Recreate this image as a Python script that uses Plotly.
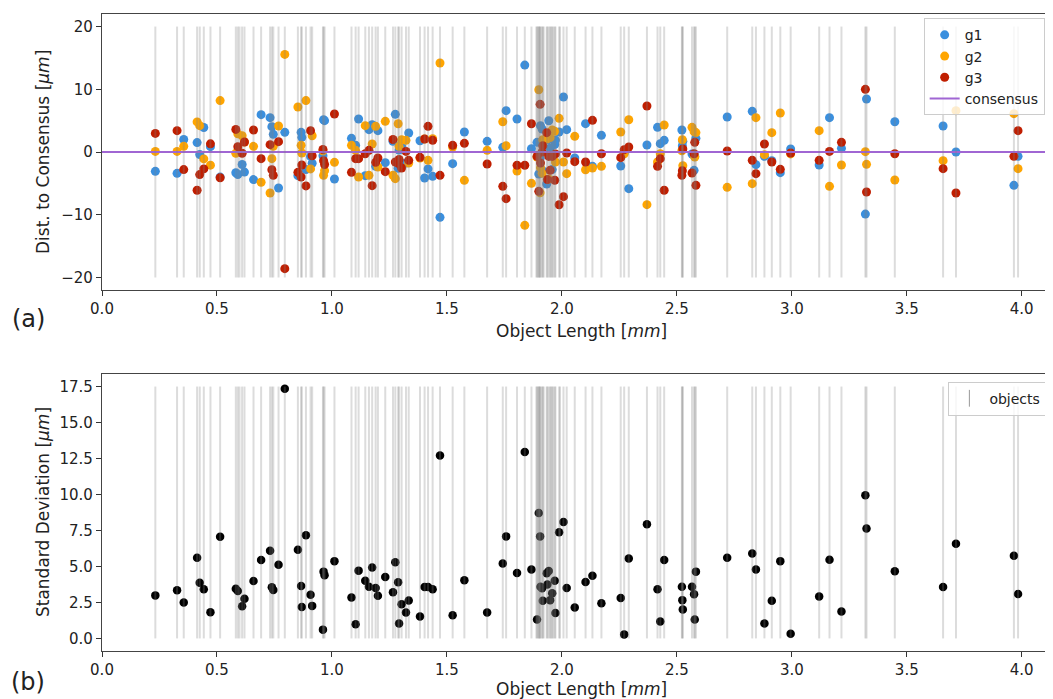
import plotly.graph_objects as go

# ---- data ----
lengths = [0.232, 0.3265, 0.3555, 0.4136, 0.425, 0.4427, 0.4716, 0.5137, 0.582, 0.5907,
           0.6095, 0.6196, 0.659, 0.692, 0.731, 0.7387, 0.745, 0.7678, 0.795, 0.852,
           0.866, 0.869, 0.887, 0.907, 0.914, 0.961, 0.9636, 0.968, 1.011, 1.085,
           1.103, 1.116, 1.145, 1.161, 1.175, 1.19, 1.20, 1.232, 1.2655, 1.2756,
           1.288, 1.292, 1.303, 1.322, 1.334, 1.383, 1.403, 1.418, 1.438, 1.470,
           1.525, 1.576, 1.675, 1.743, 1.7575, 1.805, 1.8387, 1.8677, 1.892, 1.8996,
           1.9054, 1.907, 1.914, 1.917, 1.934, 1.937, 1.943, 1.949, 1.958, 1.969,
           1.972, 1.988, 2.007, 2.021, 2.056, 2.103, 2.133, 2.172, 2.256, 2.271,
           2.291, 2.37, 2.416, 2.428, 2.445, 2.522, 2.524, 2.526, 2.566, 2.575,
           2.578, 2.583, 2.719, 2.828, 2.844, 2.881, 2.913, 2.95, 2.995, 3.119,
           3.164, 3.216, 3.320, 3.325, 3.448, 3.658, 3.714, 3.966, 3.984]

g1 = [-3.08, -3.4, 2.0, 1.5, -0.4, 3.9, 0.85, -4.0, -3.3, -3.6,
      -2.0, -3.2, -4.4, 5.95, 5.47, 4.04, 2.82, -5.74, 3.13, -3.77,
      3.13, 2.34, -2.8, -0.7, -1.8, -0.6, 5.15, 5.0, -4.3, 2.18,
      1.06, 5.26, -3.77, 3.56, 4.36, -2.28, 3.4, -1.7, 1.7, 6.0,
      -2.6, 0.3, 0.9, -1.75, 3.03, 1.8, -4.14, -2.7, -3.88, -10.41,
      -1.86, 3.19, 1.7, 0.74, 6.59, 5.26, 13.86, 0.53, 1.54, -3.5,
      -1.0, 4.2, 3.67, -3.0, -5.1, 1.9, 4.99, 0.6, -2.8, 1.2,
      1.9, 3.19, 8.77, 3.56, -0.96, 4.52, -2.28, 2.66, -2.23, -0.1,
      -5.84, 1.12, 3.93, 1.33, 1.86, 3.5, 1.0, 1.7, -0.32, -2.92,
      -0.7, 2.18, 5.58, 6.48, -2.02, -0.69, -1.38, -3.29, 0.48, -2.07,
      5.47, 0.58, -9.9, 8.45, 4.83, 4.14, 0.0, -5.31, -0.69]

g2 = [0.1, 0.1, 0.9, 4.8, 4.2, -1.1, -2.1, 8.2, -0.2, 2.9,
      2.6, 1.6, 0.9, -4.83, -6.53, -1.06, 0.9, 4.14, 15.56, 7.17,
      1.06, -0.16, 8.2, -2.7, 2.6, 0.2, -3.72, -2.97, -1.65, 1.06,
      0.27, -3.98, 4.2, -3.72, 1.27, 4.09, -2.39, 4.89, -3.7, -4.25,
      4.5, 0.9, 1.96, 1.86, -1.75, -0.95, 2.07, -1.33, 2.12, 14.18,
      0.8, -4.52, 0.27, 4.83, 1.0, -3.03, -11.69, -5.0, -0.8, 9.93,
      -6.5, -2.5, -3.4, 1.97, 2.07, 2.5, -4.3, 2.3, 3.5, 3.3,
      -1.6, 5.37, -1.6, -3.45, 2.5, -2.82, -2.55, -2.28, 3.19, -0.27,
      5.15, -8.39, -1.6, -0.27, 4.3, 0.2, 1.96, -2.18, 3.93, 3.24,
      -0.8, 3.1, -5.63, -5.05, 5.47, -0.42, 3.08, 6.22, -0.3, 3.4,
      -5.47, -2.07, 0.05, -1.97, -4.46, -1.38, 6.59, 6.11, -2.66]

g3 = [2.97, 3.4, -2.8, -6.1, -3.6, -2.7, 1.3, -4.1, 3.6, 0.85,
      -0.2, 1.6, 3.5, -1.06, 1.17, -2.82, -3.72, 1.65, -18.6, -3.24,
      -3.98, -2.07, -5.4, 3.4, -0.6, 0.4, -1.38, -2.0, 6.06, -3.24,
      -1.06, -1.06, -0.27, 0.27, -5.37, -1.65, -0.96, -3.13, 2.0, -1.6,
      -1.8, -1.2, -2.55, 0.1, -1.33, -0.85, 2.07, 4.09, 1.86, -3.72,
      1.06, 1.38, -1.91, -5.47, -7.44, -2.12, -2.12, 4.5, -0.7, -6.27,
      7.6, -1.75, 0.0, 1.0, 3.08, -4.4, -0.7, -2.9, -0.7, -4.5,
      -0.3, -8.4, -7.12, -0.16, -1.54, -1.6, 5.05, -0.27, -0.9, 0.37,
      0.8, 7.33, -2.28, -1.06, -6.1, -3.7, -2.97, 0.48, -3.35, -0.27,
      1.54, -5.31, 0.16, -1.33, -3.45, 1.27, -1.6, -2.76, -0.16, -1.33,
      0.1, 1.54, 9.99, -6.37, -0.27, -2.66, -6.53, -0.69, 3.4]

std_dev = [2.99, 3.34, 2.50, 5.60, 3.87, 3.41, 1.82, 7.07, 3.45, 3.29,
           2.24, 2.75, 3.99, 5.44, 6.09, 3.55, 3.36, 5.11, 17.35, 6.16,
           3.64, 2.19, 7.16, 3.03, 2.26, 0.61, 4.64, 4.39, 5.37, 2.85,
           0.98, 4.71, 4.01, 3.59, 4.92, 3.50, 2.96, 4.27, 3.20, 5.30,
           3.90, 1.03, 2.38, 1.80, 2.64, 1.52, 3.57, 3.57, 3.41, 12.71,
           1.61, 4.04, 1.80, 5.20, 7.09, 4.55, 12.95, 4.78, 1.31, 8.72,
           7.09, 3.59, 3.48, 2.61, 4.53, 3.75, 4.69, 2.66, 3.13, 4.01,
           1.77, 7.37, 8.09, 3.50, 2.15, 3.92, 4.36, 2.45, 2.80, 0.28,
           5.55, 7.93, 3.41, 1.17, 5.44, 3.59, 2.66, 2.01, 3.59, 3.06,
           1.31, 4.64, 5.60, 5.90, 4.78, 1.03, 2.61, 5.37, 0.33, 2.91,
           5.46, 1.87, 9.94, 7.63, 4.67, 3.57, 6.58, 5.74, 3.08]

# objects shown only as marker lines (no visible points)
extra_object_lengths = [0.598, 1.889, 1.897, 1.902, 1.921, 1.953, 1.962, 1.992]

consensus_value = 0.0
x_ticks = [0.0, 0.5, 1.0, 1.5, 2.0, 2.5, 3.0, 3.5, 4.0]
dist_ticks = [-20, -10, 0, 10, 20]
std_ticks = [0.0, 2.5, 5.0, 7.5, 10.0, 12.5, 15.0, 17.5]
dist_line_span = (-20, 20)
std_line_span = (0, 17.5)

object_lengths = lengths + extra_object_lengths

# ---- style ----
C1, C2, C3 = "#3a8fde", "#ffa500", "#c01e00"
CPURPLE = "#a066d3"
LINE_GREY = "rgba(128,128,128,0.28)"
FONT = "DejaVu Sans"
X_MAX = 4.136

fig = go.Figure()

for name, vals, col in [("g1", g1, C1), ("g2", g2, C2), ("g3", g3, C3)]:
    fig.add_trace(go.Scatter(x=lengths, y=vals, mode="markers", name=name,
                             marker=dict(color=col, size=9, line=dict(width=0)),
                             xaxis="x", yaxis="y", legend="legend"))

fig.add_trace(go.Scatter(x=[0, X_MAX], y=[consensus_value, consensus_value], mode="lines",
                         name="consensus", line=dict(color=CPURPLE, width=2),
                         xaxis="x", yaxis="y", legend="legend"))

fig.add_trace(go.Scatter(x=lengths, y=std_dev, mode="markers", showlegend=False,
                         marker=dict(color="black", size=8.5, line=dict(width=0)),
                         xaxis="x2", yaxis="y2"))

fig.add_trace(go.Scatter(x=[None], y=[None], mode="markers", name="objects",
                         marker=dict(symbol="line-ns", size=12, color="grey",
                                     line=dict(color="rgba(128,128,128,0.8)", width=1)),
                         xaxis="x2", yaxis="y2", legend="legend2"))

shapes = []
for L in object_lengths:
    shapes.append(dict(type="line", xref="x", yref="y", x0=L, x1=L,
                       y0=dist_line_span[0], y1=dist_line_span[1],
                       line=dict(color=LINE_GREY, width=2), layer="above"))
    shapes.append(dict(type="line", xref="x2", yref="y2", x0=L, x1=L,
                       y0=std_line_span[0], y1=std_line_span[1],
                       line=dict(color=LINE_GREY, width=2), layer="above"))

axis_common = dict(showline=True, linecolor="#444444", linewidth=1.3, ticks="outside",
                   ticklen=5, tickwidth=1.2, tickcolor="#333333", showgrid=False,
                   zeroline=False, tickfont=dict(family=FONT, size=15, color="#222222"))

fig.update_layout(
    width=1045, height=691,
    margin=dict(l=94, r=0, t=6, b=48),
    paper_bgcolor="white", plot_bgcolor="white",
    font=dict(family=FONT, size=15, color="#222222"),
    shapes=shapes,
    xaxis=dict(domain=[0, 1], range=[0, X_MAX], anchor="y", tickvals=x_ticks,
               tickformat=".1f", mirror=True, **axis_common),
    yaxis=dict(domain=[0.5667, 1], range=[-22, 22], anchor="x", tickvals=dist_ticks,
               **axis_common),
    xaxis2=dict(domain=[0, 1], range=[0, X_MAX], anchor="y2", tickvals=x_ticks,
                tickformat=".1f", mirror=True, **axis_common),
    yaxis2=dict(domain=[0, 0.4349], range=[-0.875, 18.375], anchor="x2",
                tickvals=std_ticks, tickformat=".1f", **axis_common),
    legend=dict(x=0.864, y=0.9933, xanchor="left", yanchor="top",
                bgcolor="rgba(255,255,255,0.8)", bordercolor="#cccccc", borderwidth=1,
                font=dict(family=FONT, size=14, color="#222222"), tracegroupgap=0),
    legend2=dict(x=0.89, y=0.4228, xanchor="left", yanchor="top",
                 bgcolor="rgba(255,255,255,0.8)", bordercolor="#cccccc", borderwidth=1,
                 font=dict(family=FONT, size=14, color="#222222")),
    annotations=[
        dict(text="Object Length [<i>mm</i>]", x=0.5037, y=0.5024, xref="paper", yref="paper",
             showarrow=False, xanchor="center", yanchor="middle",
             font=dict(family=FONT, size=17, color="#222222")),
        dict(text="Object Length [<i>mm</i>]", x=0.5037, y=-0.0597, xref="paper", yref="paper",
             showarrow=False, xanchor="center", yanchor="middle",
             font=dict(family=FONT, size=17, color="#222222")),
        dict(text="Dist. to Consensus [<i>μm</i>]", x=-0.062, y=0.7834, xref="paper",
             yref="paper", showarrow=False, textangle=-90, xanchor="center", yanchor="middle",
             font=dict(family=FONT, size=17, color="#222222")),
        dict(text="Standard Deviation [<i>μm</i>]", x=-0.062, y=0.2182, xref="paper",
             yref="paper", showarrow=False, textangle=-90, xanchor="center", yanchor="middle",
             font=dict(family=FONT, size=17, color="#222222")),
        dict(text="(a)", x=-0.0778, y=0.5213, xref="paper", yref="paper", showarrow=False,
             xanchor="center", yanchor="middle", font=dict(family=FONT, size=24, color="#222222")),
        dict(text="(b)", x=-0.0778, y=-0.0487, xref="paper", yref="paper", showarrow=False,
             xanchor="center", yanchor="middle", font=dict(family=FONT, size=24, color="#222222")),
    ],
)

fig.write_html("out.html")
